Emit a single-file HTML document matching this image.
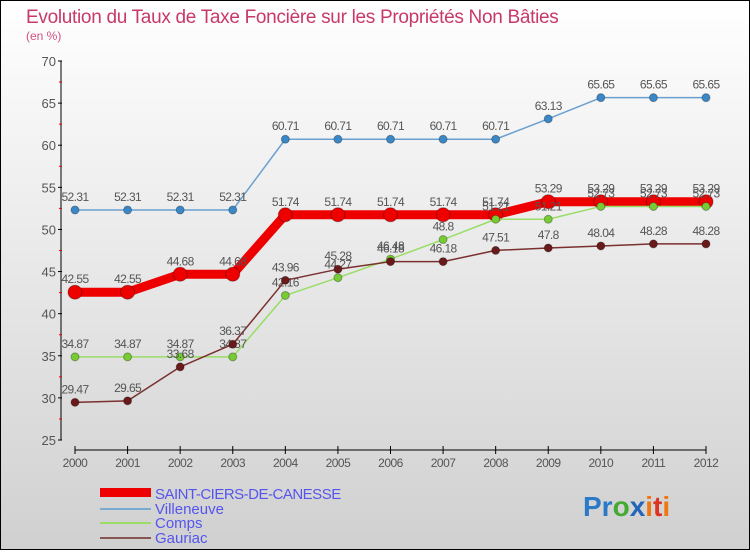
<!DOCTYPE html>
<html><head><meta charset="utf-8"><style>
body{margin:0;}
#c{width:750px;height:550px;position:relative;font-family:"Liberation Sans",sans-serif;}
</style></head><body>
<div id="c">
<svg id="s" width="750" height="550" xmlns="http://www.w3.org/2000/svg">
<defs><linearGradient id="bg" x1="0" y1="0" x2="0" y2="1"><stop offset="0" stop-color="#ffffff"/><stop offset="1" stop-color="#d0d0d0"/></linearGradient></defs>
<rect x="0.5" y="0.5" width="749" height="549" fill="url(#bg)" stroke="#000"/>
<text x="26" y="23" font-size="19" fill="#c8386a" letter-spacing="-0.3">Evolution du Taux de Taxe Foncière sur les Propriétés Non Bâties</text>
<text x="26" y="40" font-size="12" fill="#d05080">(en %)</text>
<g id="axes"></g><g id="series"></g>
<g>
<rect x="100" y="488" width="51" height="9" fill="#e00"/>
<text x="155" y="499" font-size="15" fill="#5555ee" letter-spacing="-0.5">SAINT-CIERS-DE-CANESSE</text>
<rect x="100" y="508" width="51" height="2" fill="#7aaad0"/>
<text x="155" y="514" font-size="15" fill="#5555ee">Villeneuve</text>
<rect x="100" y="522" width="51" height="2" fill="#99dd66"/>
<text x="155" y="528" font-size="15" fill="#5555ee">Comps</text>
<rect x="100" y="537" width="51" height="2" fill="#885555"/>
<text x="155" y="543" font-size="15" fill="#5555ee">Gauriac</text>
</g>
<g font-size="28" font-weight="bold">
<text x="583" y="516"><tspan fill="#2a7ac8">Pr</tspan><tspan fill="#44aa33">o</tspan><tspan fill="#2266bb">x</tspan><tspan fill="#ee7711">i</tspan><tspan fill="#dd3322">t</tspan><tspan fill="#ee7711">i</tspan></text>
</g>
</svg></div>
<script>
const years=[2000,2001,2002,2003,2004,2005,2006,2007,2008,2009,2010,2011,2012];
const saint=[42.55,42.55,44.68,44.68,51.74,51.74,51.74,51.74,51.74,53.29,53.29,53.29,53.29];
const villeneuve=[52.31,52.31,52.31,52.31,60.71,60.71,60.71,60.71,60.71,63.13,65.65,65.65,65.65];
const comps=[34.87,34.87,34.87,34.87,42.16,44.27,46.48,48.8,51.21,51.21,52.73,52.73,52.73];
const gauriac=[29.47,29.65,33.68,36.37,43.96,45.28,46.18,46.18,47.51,47.8,48.04,48.28,48.28];
const yTicks=[25,30,35,40,45,50,55,60,65,70];
const NS="http://www.w3.org/2000/svg";
const X=i=>75+i*(706-75)/(years.length-1);
const Y=v=>61+(70-v)*(440-61)/45;
function mk(t,a,p){const e=document.createElementNS(NS,t);for(const k in a)e.setAttribute(k,a[k]);p.appendChild(e);return e;}
const ax=document.getElementById('axes');
let l=mk('line',{x1:61,y1:Y(70),x2:61,y2:Y(25),stroke:'#000'},ax);


yTicks.forEach(v=>{
 mk('line',{x1:58,y1:Y(v),x2:62,y2:Y(v),stroke:'#000'},ax);
 if(v<70){mk('line',{x1:59,y1:Y(v+2.5),x2:62,y2:Y(v+2.5),stroke:'#e00'},ax);}
 let t=mk('text',{x:56,y:Y(v)+5,'text-anchor':'end','font-size':13,fill:'#555'},ax);t.textContent=v;
 
 
});
l=mk('line',{x1:75,y1:450,x2:706,y2:450,stroke:'#000'},ax);


years.forEach((y,i)=>{
 mk('line',{x1:X(i),y1:446,x2:X(i),y2:454,stroke:'#000'},ax);
 let t=mk('text',{x:X(i),y:467,'text-anchor':'middle','font-size':12,fill:'#555','letter-spacing':'-0.5'},ax);t.textContent=y;
 
 
});
const sg=document.getElementById('series');
function draw(vals,name,lc,w,dc,r){
 const g=mk('g',{},sg);
 
 
 let d='';vals.forEach((v,i)=>{d+=(i?'L':'M')+X(i)+' '+Y(v);});
 mk('path',{d:d,fill:'none',stroke:lc,'stroke-width':w,'stroke-linejoin':'round'},g);
 vals.forEach((v,i)=>{
  const c=mk('circle',{cx:X(i),cy:Y(v),r:r,fill:dc,stroke:'rgba(0,0,0,0.3)'},g);
  
  
  const t=mk('text',{x:X(i),y:Y(v)-9,'text-anchor':'middle','font-size':12,fill:'#555','letter-spacing':'-0.6'},g);
  t.textContent=String(v);
  
  
 });
}
draw(villeneuve,'villeneuve','#6aa0d0',1.5,'#3a88c8',4);
draw(saint,'saint-ciers','#ee0000',9,'#ee0000',7);
draw(comps,'comps','#99dd66',1.5,'#77cc33',4);
draw(gauriac,'gauriac','#7a3030',1.5,'#6a1a1a',4);
</script>
</body></html>
